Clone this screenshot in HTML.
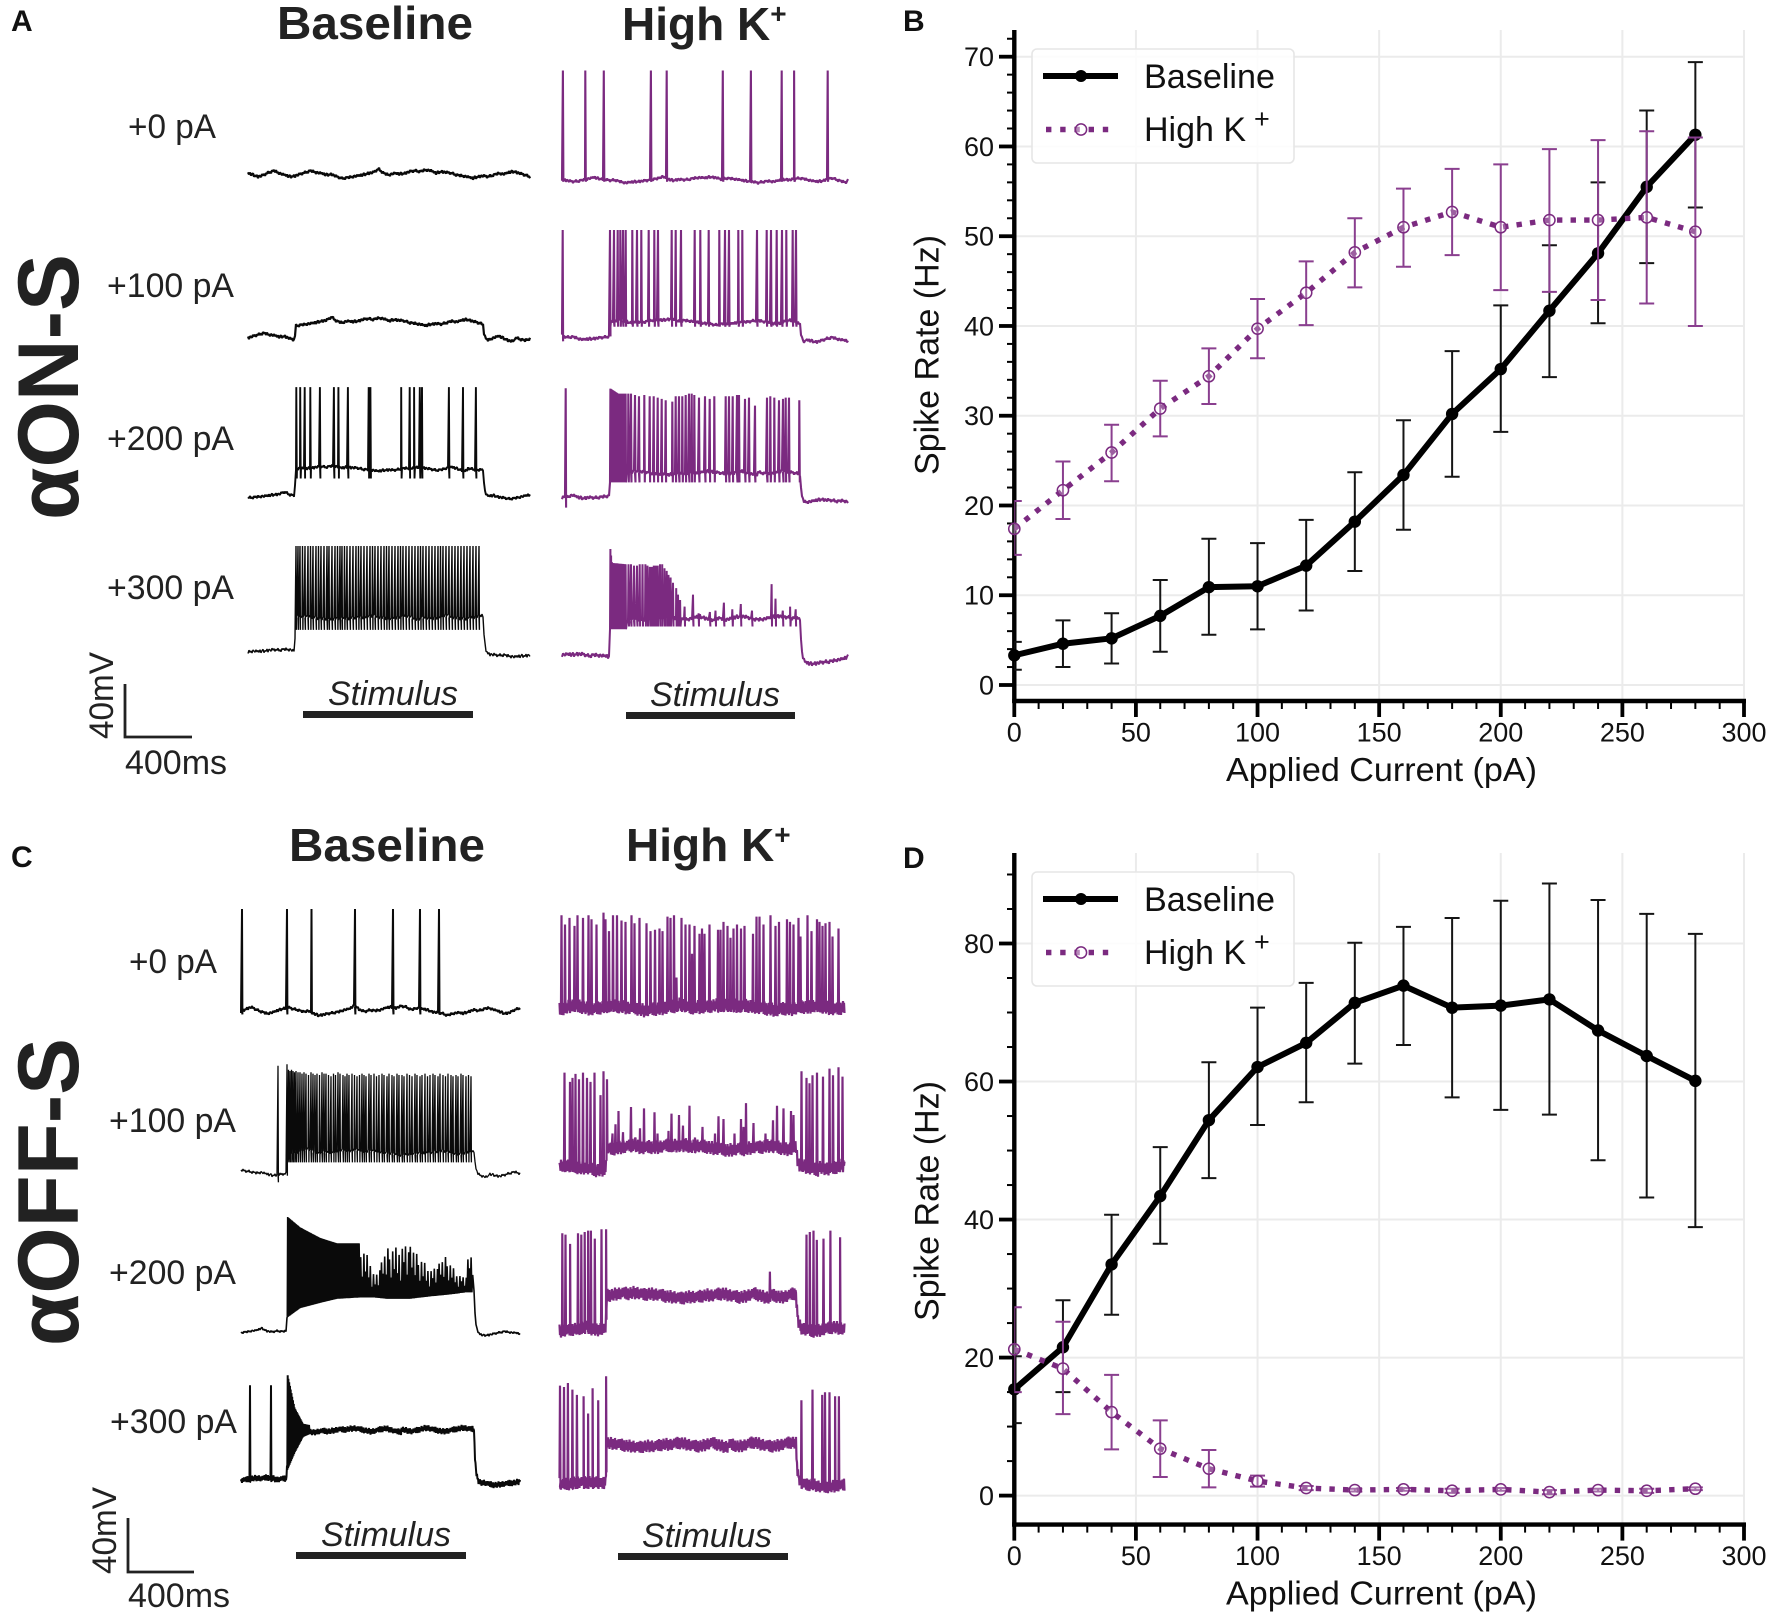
<!DOCTYPE html>
<html lang="en">
<head>
<meta charset="utf-8">
<title>Spike rate responses of αON-S and αOFF-S cells</title>
<style>
html,body{margin:0;padding:0;background:#fff}
svg{display:block}
text{font-family:"Liberation Sans",sans-serif}
</style>
</head>
<body>
<svg id="figure" xmlns="http://www.w3.org/2000/svg" width="1772" height="1617" viewBox="0 0 1772 1617">
<rect width="1772" height="1617" fill="#fff"/>
<g font-weight="700" font-size="30" fill="#111">
<text x="11" y="31">A</text>
<text x="903" y="31">B</text>
<text x="11" y="867">C</text>
<text x="903" y="868">D</text>
</g>
<g font-weight="700" font-size="46" fill="#222">
<text x="277" y="39" textLength="196" lengthAdjust="spacingAndGlyphs">Baseline</text>
<text x="622" y="40">High K<tspan font-size="28" dy="-17">+</tspan></text>
<text x="289" y="861" textLength="196" lengthAdjust="spacingAndGlyphs">Baseline</text>
<text x="626" y="861">High K<tspan font-size="28" dy="-17">+</tspan></text>
</g>
<g font-weight="700" font-size="86" fill="#222">
<text transform="translate(78,520) rotate(-90)" textLength="266" lengthAdjust="spacingAndGlyphs">αON-S</text>
<text transform="translate(78,1346) rotate(-90)" textLength="308" lengthAdjust="spacingAndGlyphs">αOFF-S</text>
</g>
<g font-size="34" fill="#222">
<text x="128" y="138" textLength="88" lengthAdjust="spacingAndGlyphs">+0 pA</text>
<text x="107" y="297" textLength="127" lengthAdjust="spacingAndGlyphs">+100 pA</text>
<text x="107" y="450" textLength="127" lengthAdjust="spacingAndGlyphs">+200 pA</text>
<text x="107" y="599" textLength="127" lengthAdjust="spacingAndGlyphs">+300 pA</text>
<text x="129" y="973" textLength="88" lengthAdjust="spacingAndGlyphs">+0 pA</text>
<text x="109" y="1132" textLength="127" lengthAdjust="spacingAndGlyphs">+100 pA</text>
<text x="109" y="1284" textLength="127" lengthAdjust="spacingAndGlyphs">+200 pA</text>
<text x="110" y="1433" textLength="127" lengthAdjust="spacingAndGlyphs">+300 pA</text>
</g>
<g fill="#222">
<text x="393" y="705" text-anchor="middle" font-style="italic" font-size="34" textLength="130" lengthAdjust="spacingAndGlyphs">Stimulus</text>
<rect x="303" y="711" width="170" height="7"/>
<text x="715" y="706" text-anchor="middle" font-style="italic" font-size="34" textLength="130" lengthAdjust="spacingAndGlyphs">Stimulus</text>
<rect x="626" y="712" width="169" height="7"/>
<text x="386" y="1546" text-anchor="middle" font-style="italic" font-size="34" textLength="130" lengthAdjust="spacingAndGlyphs">Stimulus</text>
<rect x="296" y="1552" width="170" height="7"/>
<text x="707" y="1547" text-anchor="middle" font-style="italic" font-size="34" textLength="130" lengthAdjust="spacingAndGlyphs">Stimulus</text>
<rect x="618" y="1553" width="170" height="7"/>
</g>
<g fill="#222">
<path d="M125 684V737H192" fill="none" stroke="#222" stroke-width="2.8"/>
<text transform="translate(113,739) rotate(-90)" font-size="34" textLength="87" lengthAdjust="spacingAndGlyphs">40mV</text>
<text x="125" y="774" font-size="34" textLength="102" lengthAdjust="spacingAndGlyphs">400ms</text>
<path d="M128 1518V1572H194" fill="none" stroke="#222" stroke-width="2.8"/>
<text transform="translate(116,1574) rotate(-90)" font-size="34" textLength="87" lengthAdjust="spacingAndGlyphs">40mV</text>
<text x="128" y="1607" font-size="34" textLength="102" lengthAdjust="spacingAndGlyphs">400ms</text>
</g>
<g id="traces"></g>
<g id="chart-b"></g>
<g id="chart-d"></g>
</svg>
<script>
// ---- Chart data ----
const currents = [0,20,40,60,80,100,120,140,160,180,200,220,240,260,280];
const xTicks = [0,50,100,150,200,250,300];
const xMinorTicks = [10,20,30,40,60,70,80,90,110,120,130,140,160,170,180,190,210,220,230,240,260,270,280,290];

const bYTicks = [0,10,20,30,40,50,60,70];
const bYMinorTicks = [2,4,6,8,12,14,16,18,22,24,26,28,32,34,36,38,42,44,46,48,52,54,56,58,62,64,66,68,72];
const bBaseline = [3.3,4.6,5.2,7.7,10.9,11,13.3,18.2,23.4,30.2,35.2,41.7,48.1,55.5,61.3];
const bBaselineUpper = [4.8,7.2,8.0,11.7,16.3,15.8,18.4,23.7,29.5,37.2,42.3,49,56,64,69.4];
const bBaselineLower = [1.7,2,2.4,3.7,5.6,6.2,8.3,12.7,17.3,23.2,28.2,34.3,40.3,47,53.2];
const bHighK = [17.4,21.7,25.9,30.8,34.4,39.7,43.7,48.2,51,52.7,51,51.8,51.8,52.1,50.5];
const bHighKUpper = [20.5,24.9,29,33.9,37.5,43,47.2,52,55.3,57.5,58,59.7,60.7,61.7,61];
const bHighKLower = [14.5,18.5,22.7,27.7,31.3,36.4,40.1,44.3,46.6,47.9,44,43.8,42.9,42.5,40];

const dYTicks = [0,20,40,60,80];
const dYMinorTicks = [5,10,15,25,30,35,45,50,55,65,70,75,85,90];
const dBaseline = [15.4,21.5,33.5,43.4,54.4,62.1,65.6,71.4,73.9,70.7,71,71.9,67.4,63.7,60.1];
const dBaselineUpper = [20.2,28.3,40.7,50.5,62.8,70.7,74.3,80.1,82.4,83.7,86.2,88.7,86.3,84.3,81.4];
const dBaselineLower = [10.5,15,26.2,36.5,46,53.7,57,62.6,65.3,57.7,55.9,55.2,48.6,43.2,38.9];
const dHighK = [21.2,18.4,12.1,6.8,3.9,2.1,1.1,0.8,0.9,0.7,0.9,0.5,0.8,0.7,1];
const dHighKUpper = [27.3,25.2,17.5,10.9,6.6,2.9,1.4,1,1.1,1,1.1,0.8,1,1,1.2];
const dHighKLower = [15,11.8,6.7,2.7,1.2,1.3,0.8,0.6,0.7,0.4,0.7,0.2,0.6,0.4,0.8];

// ---- Electrophysiology sweeps: spike times (samples) and amplitudes (mV above rest) ----
const noiseSlow = [1,0,-1,0,1.5,2.5,1,0,-1,-.5,.5,1.5,2.5,1.5,1,0,.5,-1,-2,-1.5,-1,-.5,0,1,1.5,3.5,1,0,1,.5,1,2,2.5,2,3,2.5,1,2,1.5,1,0,-.5,-1,-2,-1,-.5,-1,0,1,.5,1.5,2,1,0,-1,-.5,1,2,.5,-1,-1.5];
const noiseFast = [.6,-.5,.9,-.8,.3,1,-.9,.2,-.4,.8,-1,.5,.1,-.7,.9,-.2,.6,-.9,.4,-.3,1,-.6,.2,-1,.7,-.1,.5,-.8,.9,-.4,.3,-.9,.6,.1,-.6,.8,-.3];
const burstJitter = [1,.62,.95,.5,1,.78,.42,.93,.58,1,.5,.85,.35,.96,.7,1,.46,.88];

const aHigh0Spikes = [0.9,23.3,41.8,88.9,104.7,160.8,188.9,219.7,232.1,265.7];
const aHigh100Spikes = [0.7,48,52,55.7,58.3,61,63.7,70.3,75,79.3,86.7,92.3,96,109.7,113.7,119,132.7,138.3,146.7,157.3,163,167,176.3,180.3,195,204.7,209,214.7,220,224.3,230.7,234];
const aBase200Spikes = [48.3,52.2,56.7,62.3,71.9,85.9,90.4,99.9,120.7,122.4,153.2,161.7,166.1,171.8,174,200.9,215,227.9];
const aHigh200Spikes = [3.7,66.3,69,73,77,82.3,87.7,91.7,95.7,99.7,103.7,110.3,113.7,117,120.3,123.7,127,129.7,132.3,137,143,147.7,152.3,163.7,167,170.7,175,177,183,187,193,205,208.3,212.3,217,221,223.7,227,237.3];
const aHigh200Amps = [83,79,79,78,77,78,77,77,76,75,74,73,77,77,77,78,79,79,78,76,77,75,77,77,77,77,78,78,75,76,70,76,77,76,74,75,76,76,74];
const aBase300Spikes = [48,50,52,54.5,57,60,62.5,65,68,70.5,73,76,79,81,84,87,89.5,92,94,96.5,99,102,105,108,110.5,113,116,119,122,124.5,127,130,133,136,138.5,141,144,147,150,152.5,155,158,161,164,167,170,172.5,175,178,181,184,187,190,192.5,195,198,201,204,207,210,213,216,219,222,225,228,231];
const aHigh300Spikes = [66.5,69,72,75,77.7,80.5,83.4,85.5,87.8,89.8,91.8,93.8,95.7,98,100.2,102.5,104.7,106.5,108.6,111,114.2,116,118.1,122.6,131,136.6,147.9,153.5,161.9,170.3,178.8,190,209.6,213.5,220.8,228.1,233.7];
const aHigh300Amps = [70,70,69,69,70,70,70,69,68,68,69,69,69,70,70,67,65,62,60,56,52,47,43,38,47,33,34,35,41,36,40,35,55,44,35,38,36];

const cBase0Spikes = [1,46,70.5,114,152,179,198];
const cHigh0Spikes = [2,5.5,10,15,18,23.5,29,32,37,44,46,49.5,53.5,57.5,62,66,72,75,80,87,91,95.5,100,103,108,111,114.5,117,122,126,130,132.5,135,140,142.5,145,150,158.5,161,164,168,171,174,177.5,181.5,185,193.5,197,200,204,211,216,219.5,227.5,230.5,234,239,241,248,252,257.5,260,263,266,270,273,279];
const cHigh0Amps = [70,63,68,62,70,68,70,67,63,72,67,58,70,70,66,65,70,64,68,64,58,59,60,58,69,68,70,23,68,63,63,41,62,56,60,56,63,59,59,65,62,53,60,63,60,62,56,69,69,63,70,62,65,67,65,63,68,54,70,58,67,65,62,64,65,54,60];
const cBase100Spikes = [37,46,47.5,49,50.5,52,53.5,55,57,59,61,63,65,67.5,70,72,74,76,78.5,81,83,85,87.5,90,92.5,94.5,97,99,102,104,106,108,111,113.5,116,118.5,121,123,125,128,130,133,135.5,138,141,143,146,148,151,153,156,158,161,163,166,168.5,171,174,176,179,181,184,186.5,189,192,194,197,199,202,204.5,207,210,212,215,217,220,222,225,227.5,230];
const cBase100Amps = [81,82,78,77,78,77,76,77,76,76,75,76,75,74,76,75,74,75,74,76,75,75,74,73,75,74,76,75,74,73,75,74,75,74,73,74,75,74,73,75,74,75,73,74,75,74,73,75,74,73,75,74,74,73,75,74,73,75,74,73,74,75,73,74,75,74,73,75,74,73,75,74,73,74,73,75,74,73,74,73,74];
const cHigh100Spikes = [5,10.5,13,16,19.5,23.5,27.5,31,35,41,44,47.5,53,56,59,63.5,71.5,76,80.5,84.5,95,98,109,112,119.5,123.5,130,135.5,143,155.5,159,164,175,181.5,184,186.5,194,206,213.5,217.5,224,231.5,234,242,247,250,253,257.5,263.5,270,273.5,279,283];
const cHigh100Amps = [72,65,68,71,67,72,68,65,72,55,73,67,26,33,43,27,46,23,30,45,42,26,28,41,40,32,47,23,31,26,39,37,26,37,31,49,34,26,36,47,45,43,40,73,68,64,70,72,69,75,70,76,69];
const cHigh200Spikes = [2.8,6,10.6,18.5,21.8,25.2,28.6,31.4,35.3,42,46.6,210.4,247,250.3,254,257.3,264,270.9,280.6];
const cHigh200Amps = [73,72,65,73,72,74,75,75,69,76,76,44,72,74,75,68,69,75,70];
const cBase300Spikes = [9,30];
const cHigh300Spikes = [0.5,4.5,8.4,12.9,17.4,24.1,28.6,33.1,38.7,46.6,241.9,253,262.7,265.5,270,275.6,279.4];
const cHigh300Amps = [75,74,77,72,68,67,54,73,64,82,64,72,68,70,70,67,67];

const aHigh200BurstT = [48,56,64];
const aHigh200BurstTop = [83,79,79];
const aHigh200BurstBottom = [12,12,12];
const aHigh300BurstT = [48,50,64];
const aHigh300BurstTop = [84,71,70];
const aHigh300BurstBottom = [21,21,21];
const cBase200BurstT = [46.3,59,79,95.7,118,129,134,146,168.6,191,205,216,225,227.6,232];
const cBase200BurstTop = [87,79,71,67,67,55,40,63,65,46,57,44,40,60,56];
const cBase200BurstBottom = [11,18,22,25,26,26,26,25,25,27,28,29,30,30,30];
const cBase300BurstT = [46.3,53.6,62,68];
const cBase300BurstTop = [81,55,43,42];
const cBase300BurstBottom = [8,21,33,35];

const black = '#0a0a0a';
const purple = '#7b2a80';
const mvPerPx = 1.325;

const sweeps = [
 {id:'a-baseline-0',color:black,w:2.2,x0:248,samples:282,rest:175,step:0,on:47,off:235,slow:1.3,fast:1.2,phase:0},
 {id:'a-baseline-100',color:black,w:2.2,x0:248,samples:282,rest:337,step:10.8,on:47,off:235,slow:1.2,fast:1.2,phase:9,under:2},
 {id:'a-baseline-200',color:black,w:1.9,x0:248,samples:282,rest:495.7,step:20,on:47,off:235,slow:.8,fast:1.2,phase:18,spikes:aBase200Spikes,amp:82,trough:7,under:2},
 {id:'a-baseline-300',color:black,w:1.4,x0:248,samples:282,rest:652,step:25.7,on:47,off:235,slow:.7,fast:1.4,phase:27,spikes:aBase300Spikes,amp:80,trough:9,under:3},
 {id:'a-high-k-0',color:purple,w:2.1,x0:562,samples:286,rest:180.5,step:0,on:48,off:238,slow:.9,fast:1.2,phase:6,spikes:aHigh0Spikes,amp:83,trough:1},
 {id:'a-high-k-100',color:purple,w:2.1,x0:562,samples:286,rest:337.3,step:11,on:48,off:238,slow:.9,fast:1.3,phase:14,spikes:aHigh100Spikes,amp:81,trough:3,under:3},
 {id:'a-high-k-200',color:purple,w:2.1,x0:562,samples:286,rest:498.3,step:19,on:48,off:238,slow:.7,fast:1.4,phase:23,spikes:aHigh200Spikes,amps:aHigh200Amps,amp:77,trough:7,under:3,burstT:aHigh200BurstT,burstTop:aHigh200BurstTop,burstBottom:aHigh200BurstBottom},
 {id:'a-high-k-300',color:purple,w:2,x0:562,samples:286,rest:657,step:29,on:48,off:238,slow:.8,fast:1.7,phase:31,spikes:aHigh300Spikes,amps:aHigh300Amps,amp:60,trough:6,under:4,burstT:aHigh300BurstT,burstTop:aHigh300BurstTop,burstBottom:aHigh300BurstBottom},
 {id:'c-baseline-0',color:black,w:2,x0:241,samples:279,rest:1011.7,step:0,on:46,off:233,slow:1.4,fast:1.2,phase:3,spikes:cBase0Spikes,amp:77.5,trough:2},
 {id:'c-baseline-100',color:black,w:1.3,x0:241,samples:279,rest:1173,step:15,on:46,off:233,slow:.9,fast:1.2,phase:12,spikes:cBase100Spikes,amps:cBase100Amps,amp:76,trough:7,under:2},
 {id:'c-baseline-200',color:black,w:1.6,x0:241,samples:279,rest:1332,step:30,on:46,off:233,slow:.8,fast:.9,phase:21,under:2,burstT:cBase200BurstT,burstTop:cBase200BurstTop,burstBottom:cBase200BurstBottom,jitterFrom:118},
 {id:'c-baseline-300',color:black,w:2,x0:241,samples:279,rest:1480.7,step:38,on:46,off:233,slow:.8,fast:2.4,phase:29,spikes:cBase300Spikes,amp:72,trough:1,under:2,burstT:cBase300BurstT,burstTop:cBase300BurstTop,burstBottom:cBase300BurstBottom},
 {id:'c-high-k-0',color:purple,w:2.2,x0:559.5,samples:285,rest:1008,step:0,on:46.5,off:236.5,slow:.9,fast:5.2,phase:2,spikes:cHigh0Spikes,amps:cHigh0Amps,amp:62,trough:3},
 {id:'c-high-k-100',color:purple,w:2.2,x0:559.5,samples:285,rest:1168,step:15,on:46.5,off:236.5,slow:.9,fast:5.2,phase:11,spikes:cHigh100Spikes,amps:cHigh100Amps,amp:62,trough:3},
 {id:'c-high-k-200',color:purple,w:2.2,x0:559.5,samples:285,rest:1330,step:25.6,on:46.5,off:236.5,slow:.9,fast:5,phase:20,spikes:cHigh200Spikes,amps:cHigh200Amps,amp:70,trough:3},
 {id:'c-high-k-300',color:purple,w:2.2,x0:559.5,samples:285,rest:1485,step:30,on:46.5,off:236.5,slow:.9,fast:4.8,phase:28,spikes:cHigh300Spikes,amps:cHigh300Amps,amp:70,trough:3}
];

const NS = 'http://www.w3.org/2000/svg';
function mk(parent, tag, attrs, txt){
  const el = document.createElementNS(NS, tag);
  for(const k in attrs){ el.setAttribute(k, attrs[k]); }
  if(txt !== undefined){ el.textContent = txt; }
  parent.appendChild(el);
  return el;
}
function lerp(xs, ys, t){
  if(t <= xs[0]){ return ys[0]; }
  for(let i = 1; i < xs.length; i++){
    if(t <= xs[i]){ return ys[i-1] + (ys[i]-ys[i-1])*(t-xs[i-1])/(xs[i]-xs[i-1]); }
  }
  return ys[ys.length-1];
}

// ---- Sweep drawing ----
function levelAt(s, t){
  if(t < s.on){ return 0; }
  if(t < s.off){ return s.step*Math.min(1,(t-s.on+.4)/1.2); }
  const fall = Math.exp(-(t-s.off)/1.4);
  return s.step*fall - (s.under||0)*(1-fall)*Math.exp(-(t-s.off)/120);
}
function noiseAt(s, i, t){
  const p = (t/s.samples*(noiseSlow.length-1)*.9 + s.phase) % (noiseSlow.length-1);
  const k = Math.floor(p), f = p-k;
  const slow = noiseSlow[k]*(1-f) + noiseSlow[k+1]*f;
  return slow*s.slow + noiseFast[(i+s.phase)%noiseFast.length]*s.fast;
}
function drawSweep(s, parent){
  const sx = t => s.x0 + t/s.samples*s.samples;
  const sy = mv => s.rest - mv*mvPerPx;
  const spikes = s.spikes || [];
  const pts = [];
  const dt = s.fast > 2 ? .5 : 1;
  let si = 0, i = 0;
  for(let t = 0; t <= s.samples; t += dt, i++){
    while(si < spikes.length && spikes[si] <= t){
      const st = spikes[si];
      const amp = s.amps ? s.amps[si] : s.amp;
      pts.push([sx(st), sy(amp)]);
      pts.push([sx(st+.45), sy(levelAt(s,st)-(s.trough||0))]);
      si++;
    }
    if(s.burstT && t >= s.burstT[0] && t <= s.burstT[s.burstT.length-1]){
      let j = 0, b = s.burstT[0];
      const end = s.burstT[s.burstT.length-1];
      while(b <= end){
        let top = lerp(s.burstT, s.burstTop, b);
        const bottom = lerp(s.burstT, s.burstBottom, b);
        const late = s.jitterFrom && b > s.jitterFrom;
        if(late){
          top = bottom + (top-bottom)*burstJitter[Math.floor(j/2)%burstJitter.length];
        }
        pts.push([sx(b), sy(j%2 ? top : bottom)]);
        b += late ? .8 : .38;
        j++;
      }
      t = end;
      continue;
    }
    pts.push([sx(t), sy(levelAt(s,t)+noiseAt(s,i,t))]);
  }
  const d = 'M' + pts.map(p => p[0].toFixed(1)+' '+p[1].toFixed(1)).join('L');
  const path = mk(parent, 'path', {d:d, fill:'none', stroke:s.color, 'stroke-width':s.w, 'stroke-linejoin':'bevel'});
  
  
}
const traceGroup = document.getElementById('traces');
sweeps.forEach(s => drawSweep(s, traceGroup));

// ---- Line charts ----
const axisFont = 27;
function drawChart(root, c){
  const sx = v => 1014.3 + v/300*(1744-1014.3);
  const sy = v => c.y0 + v*(c.yTop-c.y0)/c.yTopValue;
  const clipId = root.id + '-clip';
  const defs = mk(root, 'defs', {});
  const clip = mk(defs, 'clipPath', {id:clipId});
  mk(clip, 'rect', {x:1014.3, y:c.spineTop, width:732, height:c.axisY-c.spineTop});

  const grid = mk(root, 'g', {stroke:'#ebebeb', 'stroke-width':2});
  
  
  xTicks.forEach(v => {
    const l = mk(grid, 'line', {x1:sx(v), x2:sx(v), y1:c.spineTop, y2:c.axisY});
    
    
  });
  c.yTicks.forEach(v => {
    const l = mk(grid, 'line', {x1:1014.3, x2:1744, y1:sy(v), y2:sy(v)});
    
    
  });

  const axes = mk(root, 'g', {stroke:'#000', fill:'#000'});
  
  
  xMinorTicks.forEach(v => {
    const l = mk(axes, 'line', {x1:sx(v), x2:sx(v), y1:c.axisY, y2:c.axisY+8, 'stroke-width':2});
    
    
  });
  c.yMinor.forEach(v => {
    const l = mk(axes, 'line', {x1:1007, x2:1014.3, y1:sy(v), y2:sy(v), 'stroke-width':2});
    
    
  });
  xTicks.forEach(v => {
    const l = mk(axes, 'line', {x1:sx(v), x2:sx(v), y1:c.axisY, y2:c.axisY+16, 'stroke-width':3.8});
    
    
    const t = mk(axes, 'text', {x:sx(v), y:c.axisY+40.6, 'text-anchor':'middle', 'font-size':axisFont, stroke:'none', fill:'#111'}, String(v));
    
    
  });
  c.yTicks.forEach(v => {
    const l = mk(axes, 'line', {x1:999, x2:1014.3, y1:sy(v), y2:sy(v), 'stroke-width':3.8});
    
    
    const t = mk(axes, 'text', {x:994, y:sy(v)+9.5, 'text-anchor':'end', 'font-size':axisFont, stroke:'none', fill:'#111'}, String(v));
    
    
  });
  const spineY = mk(axes, 'line', {x1:1014.3, x2:1014.3, y1:c.spineTop, y2:c.axisY+2, 'stroke-width':4.4});
  
  
  const spineX = mk(axes, 'line', {x1:1012.2, x2:1746, y1:c.axisY, y2:c.axisY, 'stroke-width':4.4});
  
  

  const xTitle = mk(root, 'text', {x:1381.5, y:c.axisY+80, 'text-anchor':'middle', 'font-size':33, fill:'#111', textLength:311, lengthAdjust:'spacingAndGlyphs'}, 'Applied Current (pA)');
  
  
  const yTitle = mk(root, 'text', {transform:'translate(938.6,' + c.yTitleY + ') rotate(-90)', 'text-anchor':'middle', 'font-size':34, fill:'#111', textLength:240, lengthAdjust:'spacingAndGlyphs'}, 'Spike Rate (Hz)');
  
  

  function errorBars(name, up, lo, color){
    const g = mk(root, 'g', {stroke:color, 'stroke-width':2, 'clip-path':'url(#' + clipId + ')'});
    
    
    currents.forEach((x, i) => {
      const e = mk(g, 'path', {d:'M'+sx(x)+' '+sy(up[i])+'V'+sy(lo[i])+'M'+(sx(x)-7.5)+' '+sy(up[i])+'h15M'+(sx(x)-7.5)+' '+sy(lo[i])+'h15', fill:'none'});
      
      
    });
  }
  errorBars('error-bars-baseline', c.baseUp, c.baseLo, '#151515');
  const baseLine = mk(root, 'path', {d:'M'+currents.map((x,i)=>sx(x)+' '+sy(c.base[i])).join('L'), fill:'none', stroke:'#000', 'stroke-width':6, 'stroke-linejoin':'round', 'clip-path':'url(#' + clipId + ')'});
  
  
  currents.forEach((x, i) => {
    const m = mk(root, 'circle', {cx:sx(x), cy:sy(c.base[i]), r:6.2, fill:'#000'});
    
    
  });
  errorBars('error-bars-high-k', c.highUp, c.highLo, '#8a3f8f');
  const highLine = mk(root, 'path', {d:'M'+currents.map((x,i)=>sx(x)+' '+sy(c.high[i])).join('L'), fill:'none', stroke:purple, 'stroke-width':5.4, 'stroke-dasharray':'5.4 8.2', 'clip-path':'url(#' + clipId + ')'});
  
  
  currents.forEach((x, i) => {
    const m = mk(root, 'circle', {cx:sx(x), cy:sy(c.high[i]), r:5.6, fill:'rgba(255,255,255,.25)', stroke:purple, 'stroke-width':1.5});
    
    
  });

  const top = c.spineTop + 19;
  const legend = mk(root, 'g', {});
  
  
  const box = mk(legend, 'rect', {x:1032, y:top, width:262, height:114, rx:5, fill:'rgba(255,255,255,.85)', stroke:'#e6e6e6', 'stroke-width':1.6});
  
  
  const k1 = mk(legend, 'line', {x1:1043, x2:1118, y1:top+27, y2:top+27, stroke:'#000', 'stroke-width':6});
  
  
  const k1m = mk(legend, 'circle', {cx:1081, cy:top+27, r:6, fill:'#000'});
  
  
  const t1 = mk(legend, 'text', {x:1144, y:top+39, 'font-size':34, fill:'#111', textLength:131, lengthAdjust:'spacingAndGlyphs'}, 'Baseline');
  
  
  const k2 = mk(legend, 'line', {x1:1046, x2:1116, y1:top+80.5, y2:top+80.5, stroke:purple, 'stroke-width':5.4, 'stroke-dasharray':'5.4 8.8'});
  
  
  const k2m = mk(legend, 'circle', {cx:1081, cy:top+80.5, r:5.6, fill:'rgba(255,255,255,.45)', stroke:purple, 'stroke-width':1.5});
  
  
  const t2 = mk(legend, 'text', {x:1144, y:top+92, 'font-size':34, fill:'#111'}, 'High K');
  
  
  const t2s = mk(legend, 'text', {x:1254, y:top+79, 'font-size':27, fill:'#111'}, '+');
  
  
}

drawChart(document.getElementById('chart-b'), {
  y0:685, yTop:56.7, yTopValue:70, spineTop:30, axisY:701, yTitleY:355,
  yTicks:bYTicks, yMinor:bYMinorTicks,
  base:bBaseline, baseUp:bBaselineUpper, baseLo:bBaselineLower,
  high:bHighK, highUp:bHighKUpper, highLo:bHighKLower
});
drawChart(document.getElementById('chart-d'), {
  y0:1495.6, yTop:943.5, yTopValue:80, spineTop:853, axisY:1524.6, yTitleY:1201,
  yTicks:dYTicks, yMinor:dYMinorTicks,
  base:dBaseline, baseUp:dBaselineUpper, baseLo:dBaselineLower,
  high:dHighK, highUp:dHighKUpper, highLo:dHighKLower
});
</script>
</body>
</html>
